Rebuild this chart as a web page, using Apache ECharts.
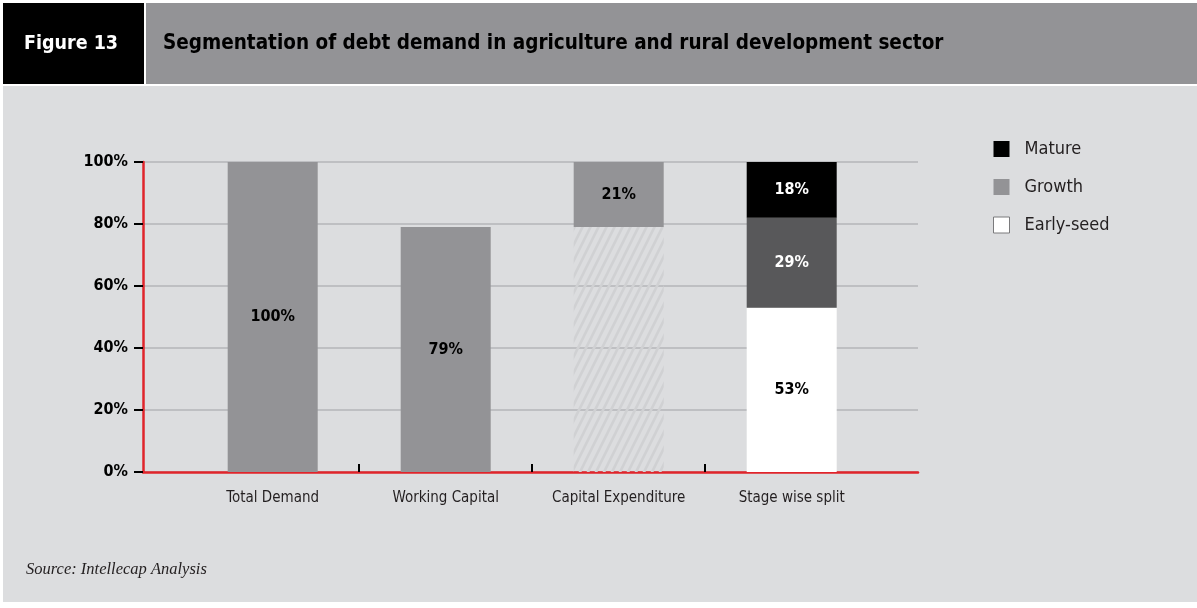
<!DOCTYPE html>
<html>
<head>
<meta charset="utf-8">
<script src="https://cdn.jsdelivr.net/npm/echarts@6/dist/echarts.min.js"></script>
<style>
html,body{margin:0;padding:0;background:#ffffff;}
#chart{width:1197px;height:608px;}
</style>
</head>
<body>
<div id="chart"></div>
<script>
// ---- Data ----
var categories = ['Total Demand', 'Working Capital', 'Capital Expenditure', 'Stage wise split'];
var demandValues = [100, 79, '-', '-'];
var capexBaseValues = ['-', '-', 79, '-'];
var capexValues = ['-', '-', 21, '-'];
var earlySeedValues = ['-', '-', '-', 53];
var growthValues = ['-', '-', '-', 29];
var matureValues = ['-', '-', '-', 18];
var yTicks = [0, 20, 40, 60, 80, 100];
var legendNames = ['Mature', 'Growth', 'Early-seed'];

var FONT = '"DejaVu Sans Condensed", "DejaVu Sans", sans-serif';

// hatch pattern
var pc = document.createElement('canvas');
pc.width = 8; pc.height = 16;
var ctx = pc.getContext('2d');
ctx.strokeStyle = '#d0d1d3';
ctx.lineWidth = 2.6;
ctx.beginPath();
ctx.moveTo(-4, 24); ctx.lineTo(12, -8);
ctx.moveTo(-12, 24); ctx.lineTo(4, -8);
ctx.moveTo(4, 24); ctx.lineTo(20, -8);
ctx.stroke();

var labelBase = { show: true, position: 'inside', fontFamily: FONT, fontWeight: 'bold', fontSize: 16,
  formatter: function (p) { return p.value + '%'; } };

// axis geometry: outer axis frame 143..918, category band of 173px centred at 272.7 + i*173
var UNIT = 173;
var X0 = 272.7;

var chart = echarts.init(document.getElementById('chart'), null, { renderer: 'canvas' });
chart.setOption({
  animation: false,
  backgroundColor: '#ffffff',
  graphic: [
    { type: 'rect', shape: { x: 3, y: 86, width: 1194, height: 516 }, style: { fill: '#dcdddf' }, z: -10 },
    { type: 'rect', shape: { x: 3, y: 3, width: 141, height: 81 }, style: { fill: '#000000' }, z: -10 },
    { type: 'rect', shape: { x: 146, y: 3, width: 1051, height: 81 }, style: { fill: '#939396' }, z: -10 },
    { type: 'text', x: 71, y: 44, style: { text: 'Figure 13', fill: '#ffffff', font: 'bold 19.5px ' + FONT, textAlign: 'center', textVerticalAlign: 'middle' } },
    { type: 'text', x: 163, y: 44, style: { text: 'Segmentation of debt demand in agriculture and rural development sector', fill: '#000000', font: 'bold 20.5px ' + FONT, textAlign: 'left', textVerticalAlign: 'middle' } },
    { type: 'text', x: 26, y: 570, style: { text: 'Source: Intellecap Analysis', fill: '#231f20', font: 'italic 16.5px "Liberation Serif", "DejaVu Serif", serif', textAlign: 'left', textVerticalAlign: 'middle' } }
  ],
  legend: {
    orient: 'vertical', left: 988, top: 135,
    itemWidth: 16, itemHeight: 16, itemGap: 20,
    icon: 'rect',
    textStyle: { fontFamily: FONT, fontSize: 18, color: '#231f20', padding: [0, 0, 0, 10] },
    data: [
      { name: legendNames[0], itemStyle: { color: '#000000' } },
      { name: legendNames[1], itemStyle: { color: '#939396' } },
      { name: legendNames[2], itemStyle: { color: '#ffffff', borderColor: '#7a7a7c', borderWidth: 1 } }
    ]
  },
  grid: [
    { left: 143, right: 279, top: 162, bottom: 136, containLabel: false },
    { left: X0 - UNIT / 2, right: 1197 - (X0 - UNIT / 2 + 4 * UNIT), top: 162, bottom: 136, containLabel: false }
  ],
  xAxis: [
    {
      gridIndex: 0, type: 'value', min: -(X0 - 143) / UNIT, max: (918 - X0) / UNIT,
      axisLine: { show: true, lineStyle: { color: '#e0242b', width: 2.5 } },
      axisTick: { show: true, inside: true, length: 8, customValues: [0.5, 1.5, 2.5], lineStyle: { color: '#000000', width: 2 } },
      axisLabel: { show: false },
      splitLine: { show: false }
    },
    {
      gridIndex: 1, type: 'category', data: categories,
      axisLine: { show: false }, axisTick: { show: false },
      axisLabel: { interval: 0, margin: 19, fontFamily: FONT, fontSize: 15, color: '#231f20' }
    }
  ],
  yAxis: [
    {
      gridIndex: 0, type: 'value', min: yTicks[0], max: yTicks[yTicks.length - 1], interval: 20,
      axisLine: { show: true, onZero: false, lineStyle: { color: '#e0242b', width: 2.5 } },
      axisTick: { show: true, length: 9, lineStyle: { color: '#000000', width: 2 } },
      axisLabel: { margin: 15, fontFamily: FONT, fontWeight: 'bold', fontSize: 16, color: '#000000',
        formatter: function (v) { return v + '%'; } },
      splitLine: { show: true, lineStyle: { color: '#b4b5b8', width: 1.5 } }
    },
    {
      gridIndex: 1, type: 'value', min: yTicks[0], max: yTicks[yTicks.length - 1],
      show: false, splitLine: { show: false }
    }
  ],
  series: [
    { name: 'Demand', type: 'bar', xAxisIndex: 1, yAxisIndex: 1, stack: 'a', barWidth: 90, data: demandValues,
      itemStyle: { color: '#939396' }, label: Object.assign({}, labelBase, { color: '#000000' }) },
    { name: 'CapexBase', type: 'bar', xAxisIndex: 1, yAxisIndex: 1, stack: 'a', barWidth: 90, data: capexBaseValues,
      itemStyle: { color: { image: pc, repeat: 'repeat' } }, label: { show: false } },
    { name: 'Capex', type: 'bar', xAxisIndex: 1, yAxisIndex: 1, stack: 'a', barWidth: 90, data: capexValues,
      itemStyle: { color: '#939396' }, label: Object.assign({}, labelBase, { color: '#000000' }) },
    { name: 'Early-seed', type: 'bar', xAxisIndex: 1, yAxisIndex: 1, stack: 'a', barWidth: 90, data: earlySeedValues,
      itemStyle: { color: '#ffffff' }, label: Object.assign({}, labelBase, { color: '#000000' }) },
    { name: 'Growth', type: 'bar', xAxisIndex: 1, yAxisIndex: 1, stack: 'a', barWidth: 90, data: growthValues,
      itemStyle: { color: '#58585a' }, label: Object.assign({}, labelBase, { color: '#ffffff' }) },
    { name: 'Mature', type: 'bar', xAxisIndex: 1, yAxisIndex: 1, stack: 'a', barWidth: 90, data: matureValues,
      itemStyle: { color: '#000000' }, label: Object.assign({}, labelBase, { color: '#ffffff' }) }
  ]
});
</script>
</body>
</html>
